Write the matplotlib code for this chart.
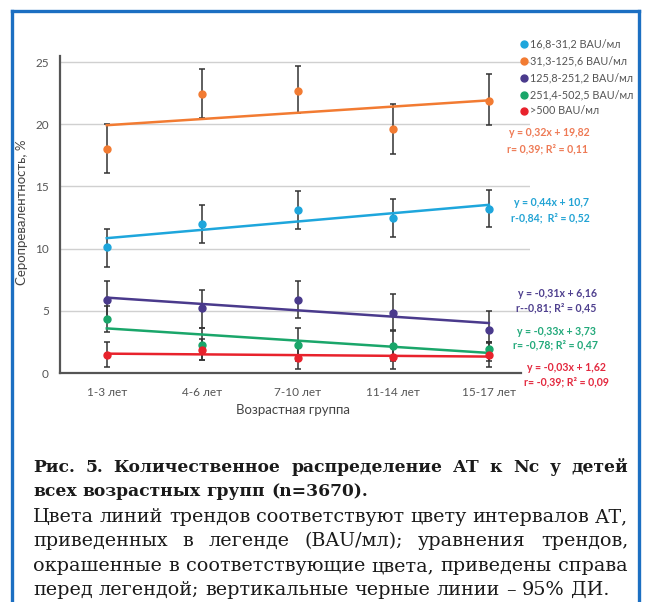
import numpy as np
import matplotlib
matplotlib.use("Agg")
import matplotlib.pyplot as plt
from matplotlib.lines import Line2D

# ---------------- data ----------------
categories = ['1-3 лет', '4-6 лет', '7-10 лет', '11-14 лет', '15-17 лет']
series_names = ['16,8-31,2 BAU/мл', '31,3-125,6 BAU/мл', '125,8-251,2 BAU/мл',
                '251,4-502,5 BAU/мл', '>500 BAU/мл']
series_colors = ['#1ea6dc', '#f27b32', '#4a3a8c', '#1aa66a', '#e8222c']
eq_colors = ['#22a3d4', '#ee7a55', '#4e3f8e', '#22a97a', '#e3283e']

blue_vals = [10.1, 12.0, 13.1, 12.5, 13.2]
blue_lo = [8.55, 10.47, 11.58, 10.96, 11.7]
blue_hi = [11.58, 13.48, 14.6, 13.99, 14.7]

orange_vals = [18.0, 22.4, 22.7, 19.6, 21.9]
orange_lo = [16.1, 20.5, 20.9, 17.6, 19.9]
orange_hi = [20.0, 24.4, 24.7, 21.6, 24.0]

purple_vals = [5.84, 5.2, 5.84, 4.85, 3.46]
purple_lo = [4.3, 3.59, 4.39, 3.46, 2.5]
purple_hi = [7.4, 6.67, 7.4, 6.35, 5.0]

green_vals = [4.34, 2.28, 2.28, 2.17, 1.93]
green_lo = [3.3, 1.04, 1.0, 1.0, 1.0]
green_hi = [5.4, 3.59, 3.59, 3.4, 2.5]

red_vals = [1.45, 1.85, 1.18, 1.26, 1.45]
red_lo = [0.46, 1.04, 0.29, 0.29, 0.5]
red_hi = [2.5, 2.7, 2.1, 2.2, 2.4]

equations = [
    ('y = 0,44x + 10,7', 'r-0,84;  R² = 0,52'),
    ('y = 0,32x + 19,82', 'r= 0,39; R² = 0,11'),
    ('y = -0,31x + 6,16', 'r--0,81; R² = 0,45'),
    ('y = -0,33x + 3,73', 'r= -0,78; R² = 0,47'),
    ('y = -0,03x + 1,62', 'r= -0,39; R² = 0,09'),
]
eq_y = [(202, 218), (133, 149), (293.5, 308), (331.5, 344.6), (367.6, 381.8)]
eq_x = [(514, 510.5), (509, 507), (518, 515.6), (517, 513), (527, 524)]

y_ticks = [0, 5, 10, 15, 20, 25]

caption_bold = ['Рис. 5. Количественное распределение АТ к Nc у детей',
                'всех возрастных групп (n=3670).']
caption_body = ['Цвета линий трендов соответствуют цвету интервалов АТ,',
                'приведенных в легенде (BAU/мл); уравнения трендов,',
                'окрашенные в соответствующие цвета, приведены справа',
                'перед легендой; вертикальные черные линии – 95% ДИ.']

series_vals = [blue_vals, orange_vals, purple_vals, green_vals, red_vals]
series_lo = [blue_lo, orange_lo, purple_lo, green_lo, red_lo]
series_hi = [blue_hi, orange_hi, purple_hi, green_hi, red_hi]

# ---------------- figure ----------------
W, H = 645, 602
fig = plt.figure(figsize=(W / 100, H / 100), dpi=100)
fig.patch.set_facecolor('white')

def fx(px):
    return px / W

def fy(py):
    return 1 - py / H

chart_font = 'Lato'
ax = fig.add_axes([fx(60), fy(373), fx(530) - fx(60), fy(55.8) - fy(373)])
x = np.arange(len(categories))
ax.set_xlim(-0.49, 4.43)
ax.set_ylim(0, 25.5)

for yv in y_ticks[1:]:
    ax.axhline(yv, color='#d0d0d0', lw=1.0, zorder=0)

for vals, lo, hi, col in zip(series_vals, series_lo, series_hi, series_colors):
    vals = np.array(vals)
    yerr = np.vstack([vals - np.array(lo), np.array(hi) - vals])
    ax.errorbar(x, vals, yerr=yerr, fmt='none', ecolor='#333333', elinewidth=1.1,
                capsize=2.5, capthick=1.1, zorder=2)
    k, b = np.polyfit(x, vals, 1)
    ax.plot(x, k * x + b, color=col, lw=1.8, zorder=3)
    ax.plot(x, vals, 'o', color=col, ms=5, zorder=4)

ax.set_xticks(x)
ax.set_xticklabels(categories, fontsize=8.5, color='#555555', family=chart_font)
ax.set_yticks(y_ticks)
ax.set_yticklabels([str(v) for v in y_ticks], fontsize=8.5, color='#555555', family=chart_font)
ax.tick_params(length=0, pad=8)
ax.tick_params(axis='x', pad=10)
for s in ['top', 'right']:
    ax.spines[s].set_visible(False)
for s in ['left', 'bottom']:
    ax.spines[s].set_color('#555555')
    ax.spines[s].set_linewidth(1.6)
ax.spines['bottom'].set_bounds(-0.49, 4.34)
ax.patch.set_alpha(0)

fig.text(fx(22), fy(212), 'Серопревалентность, %', rotation=90, ha='center', va='center',
         fontsize=9.5, color='#444444', family=chart_font)
fig.text(fx(293), fy(410), 'Возрастная группа', ha='center', va='center',
         fontsize=9.5, color='#444444', family=chart_font)

# legend
leg_y = [44, 61, 78, 94.5, 111]
for name, col, ly in zip(series_names, series_colors, leg_y):
    fig.add_artist(Line2D([fx(524)], [fy(ly)], marker='o', ms=5, color=col, ls='none'))
    fig.text(fx(530.5), fy(ly), name, ha='left', va='center', fontsize=7.8,
             color='#555555', family=chart_font)

# equations
for (l1, l2), (y1, y2), (x1, x2), col in zip(equations, eq_y, eq_x, eq_colors):
    fig.text(fx(x1), fy(y1), l1, ha='left', va='center', fontsize=7.6, color=col,
             family=chart_font, weight='bold')
    fig.text(fx(x2), fy(y2), l2, ha='left', va='center', fontsize=7.6, color=col,
             family=chart_font, weight='bold')

# blue frame
fc = '#1c6fc2'
fig.add_artist(Line2D([fx(12), fx(12)], [fy(11), 0], color=fc, lw=2.4))
fig.add_artist(Line2D([fx(12), fx(639)], [fy(11), fy(11)], color=fc, lw=2.4))
fig.add_artist(Line2D([fx(639), fx(639)], [fy(11), 0], color=fc, lw=2.4))

# caption with justification
renderer = fig.canvas.get_renderer()
cap_font = 'DejaVu Serif'
x_left, x_right = 33, 628

def justify_line(text, ypx, weight, size, justify=True):
    words = text.split(' ')
    objs = [fig.text(0, fy(ypx), w, ha='left', va='center', fontsize=size,
                     family=cap_font, weight=weight, color='#1a1a1a') for w in words]
    widths = [o.get_window_extent(renderer).width for o in objs]
    sp = fig.text(0, 0, 'a a', fontsize=size, family=cap_font, weight=weight)
    sp2 = fig.text(0, 0, 'aa', fontsize=size, family=cap_font, weight=weight)
    space = sp.get_window_extent(renderer).width - sp2.get_window_extent(renderer).width
    sp.remove(); sp2.remove()
    total = sum(widths)
    if justify and len(words) > 1:
        gap = (x_right - x_left - total) / (len(words) - 1)
    else:
        gap = space
    cur = x_left
    for o, wdt in zip(objs, widths):
        o.set_x(fx(cur))
        cur += wdt + gap

line_y = [467, 492, 517, 541, 566, 590]
bold_size = 12.3
body_size = 13.8
justify_line(caption_bold[0], line_y[0], 'bold', bold_size)
justify_line(caption_bold[1], line_y[1], 'bold', bold_size, justify=False)
for i, t in enumerate(caption_body):
    justify_line(t, line_y[2 + i], 'normal', body_size, justify=(i < len(caption_body) - 1))

fig.savefig('out.png', dpi=100, facecolor='white')
